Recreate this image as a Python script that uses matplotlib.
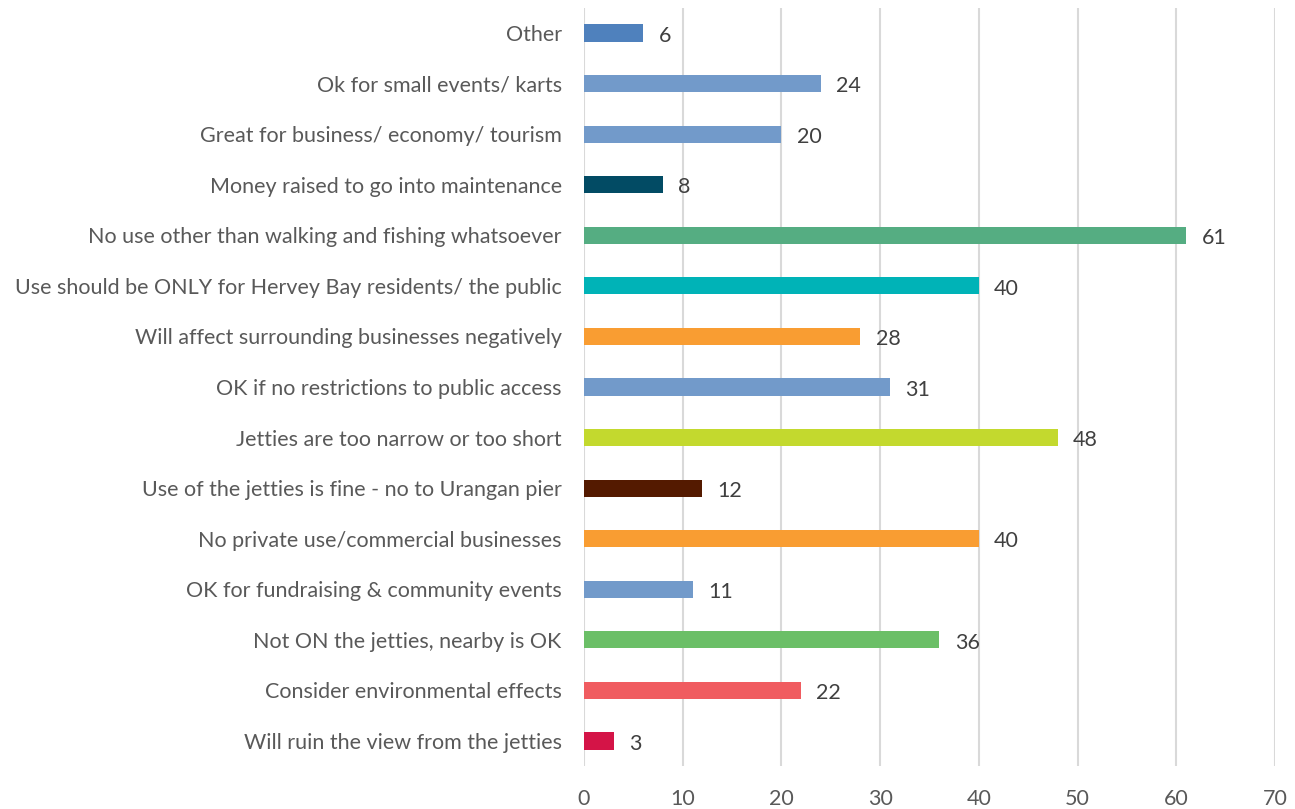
import matplotlib
matplotlib.use("Agg")
import matplotlib.pyplot as plt

categories = [
    "Other",
    "Ok for small events/ karts",
    "Great for business/ economy/ tourism",
    "Money raised to go into maintenance",
    "No use other than walking and fishing whatsoever",
    "Use should be ONLY for Hervey Bay residents/ the public",
    "Will affect surrounding businesses negatively",
    "OK if no restrictions to public access",
    "Jetties are too narrow or too short",
    "Use of the jetties is fine - no to Urangan pier",
    "No private use/commercial businesses",
    "OK for fundraising & community events",
    "Not ON the jetties, nearby is OK",
    "Consider environmental effects",
    "Will ruin the view from the jetties",
]
counts = [6, 24, 20, 8, 61, 40, 28, 31, 48, 12, 40, 11, 36, 22, 3]
colors = [
    "#4F81BD", "#729ACA", "#729ACA", "#024B64", "#55AD82",
    "#00B3B7", "#F99D32", "#729ACA", "#C3D92E", "#541A00",
    "#F99D32", "#729ACA", "#6BBF67", "#F05C60", "#D41447",
]
x_ticks = [0, 10, 20, 30, 40, 50, 60, 70]

plt.rcParams["font.family"] = ["Lato", "DejaVu Sans"]

fig = plt.figure(figsize=(12.95, 8.09), dpi=100)
ax = fig.add_axes([584 / 1295, 1 - 766.3 / 809, (1275 - 584) / 1295, 758.6 / 809])

y = list(range(len(categories)))
ax.barh(y, counts, height=0.34, color=colors, zorder=3)

for yi, v in zip(y, counts):
    ax.annotate(str(v), (v, yi), xytext=(11, -2), textcoords="offset points",
                va="center", ha="left", fontsize=15.5, color="#404040")

ax.set_xlim(0, 70)
ax.set_ylim(len(categories) - 0.5, -0.5)
ax.set_xticks(x_ticks)
ax.set_yticks(y)
ax.set_yticklabels(categories)
ax.tick_params(axis="y", length=0, pad=16, labelsize=15.5, labelcolor="#595959")
ax.tick_params(axis="x", length=0, pad=16, labelsize=15.5, labelcolor="#595959")
ax.grid(axis="x", color="#D9D9D9", linewidth=1.5, zorder=0)
for s in ax.spines.values():
    s.set_visible(False)

fig.savefig("out.png", dpi=100)
